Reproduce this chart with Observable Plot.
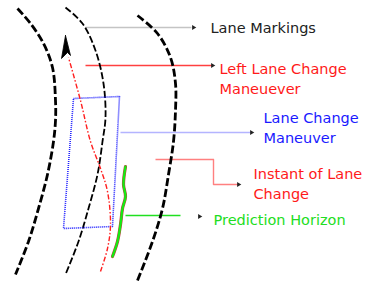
<!DOCTYPE html>
<html><head><meta charset="utf-8">
<script src="https://cdn.jsdelivr.net/npm/d3@7"></script>
<script src="https://cdn.jsdelivr.net/npm/@observablehq/plot@0.6"></script>
<style>html,body{margin:0;padding:0;background:#fff;}</style>
</head><body><div id="chart"></div>
<script>
// Lane markings (diagram units = pixels of a 380x282 canvas)
const laneLeftX = [17,30,43,52,55,55,53,47,38,28,15];
const laneLeftY = [8,23,43,67,100,120,141,174,208,241,274];
const laneMidX = [65,82,95,103,105,102,97,88,78,65];
const laneMidY = [7,23,50,83,117,141,174,208,241,274];
const laneRightX = [137,157,170,175,175,173,168,162,152,137];
const laneRightY = [15,33,57,83,110,141,174,208,241,280];
// Left lane change trajectory (red dash-dot)
const trajX = [100,107,110,107,100,90,80,68];
const trajY = [271,248,224,191,168,141,100,57];
// Arrow head
const headX = [65,61,67,70,65];
const headY = [35,58,52,55,35];
// Lane change maneuver box (blue dotted)
const boxX = [73,119,112,63,73];
const boxY = [98,96,226,228,98];
// Prediction horizon (green)
const predX = [125,123,125,122,120,117,112];
const predY = [166,184,196,208,224,241,256];
// Labels
const labels = ["Lane Markings","Left Lane Change\nManeuever","Lane Change\nManeuver","Instant of Lane\nChange","Prediction Horizon"];
const labelX = [210,219,263,253,213];
const labelY = [26,77,126,182,218];
const labelColor = ["#222222","#ff1a1a","#1a1aff","#ff1a1a","#22dd22"];
// Leader lines
const leadX1 = [85,85,120,155,125];
const leadX2 = [191,212,251,213,180];
const leadY = [27,65,132,159,215];
const leadColor = ["#c4c4c4","#ff4040","#b4b4ff","#ff8080","#20e020"];
const elbowX = [213,213,238];
const elbowY = [159,184,184];
const tipX = [193,212,251,238,199];
const tipY = [27,65,132,184,216];

const pts = (xs, ys) => xs.map((x,i)=>({x, y: ys[i]}));
const texts = labels.map((t,i)=>({t, x: labelX[i], y: labelY[i]}));
const lane = {x:"x", y:"y", curve:"catmull-rom", stroke:"#000", strokeLinecap:"butt", strokeLinejoin:"miter"};

const chart = Plot.plot({
  width: 380, height: 282,
  margin: 0,
  x: {domain: [0,380], axis: null},
  y: {domain: [0,282], reverse: true, axis: null},
  style: {background: "#fff", fontFamily: "DejaVu Sans"},
  marks: [
    Plot.link([0,1,2,3,4], {x1:i=>leadX1[i], x2:i=>leadX2[i], y1:i=>leadY[i], y2:i=>leadY[i], stroke:i=>leadColor[i], strokeWidth:1.4}),
    Plot.line(pts(elbowX, elbowY), {x:"x", y:"y", stroke:"#ff8080", strokeWidth:1.4}),
    Plot.line(pts(laneLeftX, laneLeftY), {...lane, strokeWidth:2.8, strokeDasharray:"8,3"}),
    Plot.line(pts(laneMidX, laneMidY), {...lane, strokeWidth:1.8, strokeDasharray:"7,2.5"}),
    Plot.line(pts(laneRightX, laneRightY), {...lane, strokeWidth:2.8, strokeDasharray:"8,3"}),
    Plot.line(pts(boxX, boxY), {x:"x", y:"y", stroke:"#2020ff", strokeWidth:1.6, strokeDasharray:"1,1", strokeLinecap:"butt"}),
    Plot.line(pts(trajX, trajY), {x:"x", y:"y", curve:"catmull-rom", stroke:"#ff2020", strokeWidth:1.4, strokeDasharray:"5,2,1.5,2", strokeLinecap:"butt"}),
    Plot.line(pts(headX, headY), {x:"x", y:"y", stroke:"#000", fill:"#000", strokeWidth:0.8}),
    Plot.line(pts(predX, predY), {x:"x", y:"y", curve:"catmull-rom", stroke:"#c04040", strokeWidth:3.2}),
    Plot.line(pts(predX, predY), {x:"x", y:"y", curve:"catmull-rom", stroke:"#11ee11", strokeWidth:2.2}),
    Plot.dot(pts(tipX, tipY), {x:"x", y:"y", symbol:"triangle", rotate:90, r:1.8, fill:"#222", stroke:null}),
    Plot.text(texts, {x:"x", y:"y", text:"t", fill:(d,i)=>labelColor[i], textAnchor:"start", lineAnchor:"middle", lineHeight:1.38, fontSize:14.5, fontFamily:"DejaVu Sans"})
  ]
});
document.getElementById("chart").appendChild(chart);
</script>
</body></html>
